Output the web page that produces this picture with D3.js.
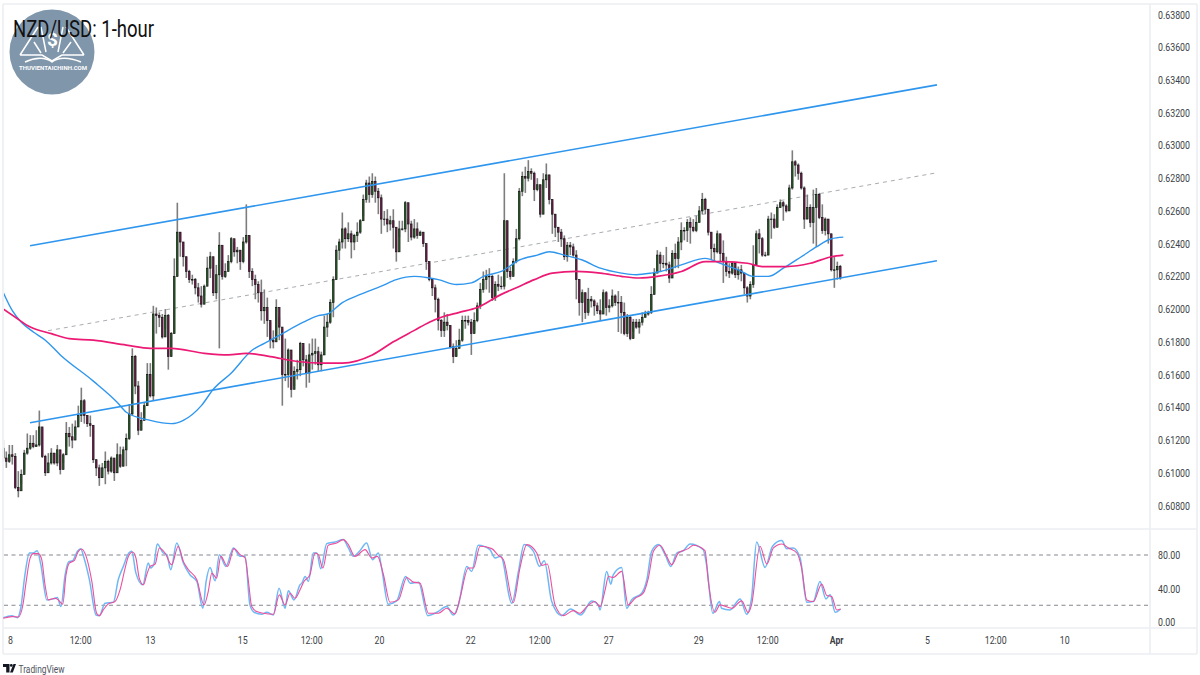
<!DOCTYPE html>
<html><head><meta charset="utf-8">
<script src="https://cdn.jsdelivr.net/npm/d3@7/dist/d3.min.js"></script>
<style>html,body{margin:0;background:#fff}svg{display:block}text{font-family:Roboto,sans-serif}</style>
</head><body><svg id="c" width="1200" height="675"></svg>
<script>
// NZD/USD candles, quoted in pips (6109 = 0.6109)
const firstOpen = 6115;
const closes = [6109,6107,6111,6110,6091,6089,6099,6112,6115,6118,6116,6117,6128,6110,6100,6106,6112,6106,6114,6102,6111,6124,6122,6120,6128,6135,6144,6135,6130,6129,6108,6103,6097,6103,6107,6101,6109,6100,6111,6104,6114,6121,6136,6171,6153,6126,6132,6141,6160,6147,
6197,6196,6195,6183,6196,6171,6185,6220,6247,6241,6232,6223,6218,6218,6213,6208,6203,6214,6225,6232,6210,6221,6239,6220,6223,6229,6243,6235,6236,6229,6241,6245,6223,6218,6215,6210,6199,6201,6193,6181,6180,6201,6189,6160,6160,6175,6151,6162,6163,6179,6169,6161,6172,6173,6174,6166,6172,6189,6192,6204,6218,6236,6241,6249,6243,6246,6241,6245,6247,6254,6267,6277,6270,6278,6272,6268,6255,6255,6252,6254,6250,6235,6249,6249,6265,6252,6244,6249,6245,6247,6240,6229,
6218,6213,6206,6193,6187,6192,6190,6177,6171,6176,6181,6193,6193,6192,6185,6193,6202,6212,6218,6220,6220,6207,6215,6214,6214,6254,6223,6220,6229,6243,6272,6281,6280,6284,6283,6273,6276,6258,6279,6282,6267,6258,6250,6247,6243,6232,6239,6238,6233,6218,6204,6210,6198,6206,6205,6202,6199,6197,6210,6201,6202,6208,6204,6204,6198,6185,6195,6182,6192,6189,6192,6195,6197,6198,6209,6222,6233,
6228,6228,6227,6219,6234,6231,6241,6248,6248,6253,6250,6248,6253,6260,6267,6261,6247,6237,6235,6246,6234,6229,6223,6222,6228,6221,6224,6222,6213,6208,6215,6227,6246,6243,6233,6233,6255,6255,6250,6262,6265,6263,6260,6274,6290,6288,6283,6274,6255,6262,6253,6262,6270,6256,6248,6255,6246,6224,6224,6226,6219];
const highs = [6120,6113,6117,6117,6112,6101,6102,6114,6124,6123,6123,6126,6138,6127,6111,6112,6115,6112,6117,6111,6112,6131,6128,6130,6132,6141,6152,6145,6135,6135,6129,6108,6105,6106,6113,6108,6110,6108,6118,6116,6116,6124,6142,6176,6172,6156,6137,6143,6167,6167,
6202,6201,6198,6197,6200,6197,6186,6231,6265,6247,6241,6232,6224,6221,6219,6216,6214,6215,6232,6235,6224,6227,6247,6230,6228,6233,6244,6241,6238,6236,6244,6264,6245,6225,6221,6217,6218,6212,6207,6192,6187,6206,6195,6188,6182,6176,6165,6165,6169,6180,6177,6172,6179,6182,6182,6177,6174,6196,6197,6206,6220,6239,6243,6259,6250,6253,6248,6246,6253,6255,6270,6279,6281,6283,6281,6274,6270,6260,6261,6257,6261,6250,6254,6254,6266,6255,6254,6255,6253,6248,6247,6239,
6228,6219,6215,6207,6194,6198,6197,6190,6179,6181,6188,6196,6196,6196,6194,6198,6204,6216,6223,6224,6225,6221,6217,6221,6220,6283,6254,6226,6231,6249,6274,6284,6287,6291,6286,6284,6280,6276,6283,6289,6282,6265,6258,6250,6249,6245,6241,6241,6240,6236,6218,6212,6210,6213,6208,6206,6204,6206,6212,6211,6206,6212,6209,6211,6208,6204,6197,6196,6194,6194,6194,6198,6199,6199,6214,6225,6236,
6235,6233,6238,6229,6236,6240,6244,6253,6250,6255,6256,6255,6257,6263,6271,6268,6261,6247,6240,6248,6245,6242,6232,6228,6229,6226,6226,6227,6222,6214,6217,6239,6248,6249,6244,6235,6257,6259,6258,6264,6267,6266,6264,6276,6297,6291,6289,6284,6275,6270,6264,6273,6274,6271,6264,6256,6255,6246,6232,6229,6227];
const lows = [6107,6103,6106,6105,6090,6085,6093,6102,6111,6114,6115,6116,6116,6109,6098,6101,6105,6105,6104,6099,6106,6116,6116,6115,6123,6130,6131,6130,6128,6122,6106,6098,6092,6097,6093,6099,6100,6095,6102,6103,6104,6104,6120,6135,6148,6123,6130,6135,6141,6146,
6144,6185,6189,6182,6188,6163,6171,6185,6220,6232,6226,6219,6216,6215,6209,6204,6201,6208,6216,6219,6208,6206,6176,6218,6219,6224,6228,6232,6228,6224,6228,6240,6219,6214,6206,6204,6193,6191,6183,6176,6176,6183,6181,6141,6156,6152,6146,6153,6157,6159,6165,6152,6155,6163,6166,6162,6162,6172,6183,6191,6195,6218,6230,6237,6237,6241,6231,6236,6241,6246,6257,6265,6265,6268,6265,6258,6246,6251,6247,6248,6237,6229,6244,6248,6247,6241,6242,6243,6243,6245,6238,6224,
6217,6208,6198,6187,6183,6183,6187,6176,6167,6171,6177,6180,6188,6190,6172,6187,6192,6200,6210,6212,6210,6205,6205,6211,6212,6212,6219,6218,6221,6228,6242,6269,6271,6278,6279,6266,6272,6256,6273,6274,6264,6246,6244,6241,6238,6230,6229,6233,6232,6206,6196,6192,6194,6196,6201,6196,6197,6193,6200,6196,6198,6201,6202,6186,6185,6184,6183,6181,6186,6188,6185,6190,6195,6196,6197,6209,6222,
6223,6225,6223,6216,6223,6225,6225,6236,6242,6241,6240,6247,6247,6253,6258,6258,6245,6230,6229,6234,6229,6216,6220,6219,6221,6219,6218,6217,6209,6204,6206,6213,6227,6234,6232,6232,6233,6243,6249,6250,6262,6254,6259,6260,6273,6281,6279,6273,6249,6255,6250,6240,6238,6255,6246,6245,6240,6223,6213,6218,6218];

// moving averages: bar position and level in pips
const blueBars = [0,3,6,10,14,19,30,38,41,49,56,60,66,70,76,83,87,92,100,105,108,113,119,126,131,137,142,145,151,156,160,166,172,178,182,187,193,199,206,211,216,219,226,234,239,245,250,255,260,266,271,276,280];
const blueLevels = [6210,6199,6192,6186,6181,6172,6156,6143,6137,6132,6130,6132,6141,6151,6161,6175,6179,6184,6192,6196,6197,6204,6209,6214,6218,6220,6219,6218,6215,6216,6220,6223,6230,6233,6235,6233,6230,6225,6222,6221,6222,6223,6227,6231,6228,6224,6220,6220,6225,6232,6238,6243,6244];
const pinkBars = [0,4,9,16,22,30,41,49,56,67,75,81,89,98,107,113,123,130,137,142,146,152,158,166,171,177,183,191,199,206,212,218,226,234,240,248,253,261,269,276,280];
const pinkLevels = [6200,6195,6189,6185,6182,6181,6178,6176,6176,6173,6172,6173,6171,6168,6167,6167,6172,6180,6187,6192,6195,6198,6201,6209,6213,6218,6222,6223,6222,6220,6219,6220,6223,6229,6229,6228,6226,6226,6228,6232,6233];

// channel drawn across the swings: [bar, pips] at each end
const channelUpper = [[8.9,6238.7],[311.2,6337]];
const channelMiddle = [[14.9,6186.8],[311.2,6283.3]];
const channelLower = [[8.9,6130.6],[311.2,6229.5]];

// stochastic oscillator
const dBars = [0,2.8,5,6.5,7.6,8.9,10,11.7,12.8,13.9,15,17.2,18.3,19.8,20.9,22,23.6,25,26.1,27.6,29.5,31.1,32,33.3,35,37.2,38.9,40.6,41.7,43.1,44.2,45.3,46.7,47.8,48.9,50.6,52,53.9,56.1,58.3,60,61.7,64.5,66.9,68.3,69.5,71.1,72.5,74.7,76.9,78.9,80.6,81.7,82.8,84.5,86.7,90,92,93.9,95.6,97.2,98.9,100.2,102.2,103.9,105,106.5,108.3,111.1,113.3,115,117.2,120.6,122.8,124.7,126.7,128.9,131.7,134.5,136.7,138.9,141.7,145,147.8,150.6,152.2,155,156.7,158.9,162.8,165,166.7,170,172.2,174.5,177.8,179.5,181.3,183.9,186.7,190,192.2,194.5,197.2,198.9,200.6,201.7,203.3,206.1,208.3,210.6,213.3,215,216.7,218.9,221.1,222.8,225,228.3,230,233.9,235,237.2,238.9,242.8,246.1,248.3,249.4,252.2,254.5,256.7,259.5,261.7,264.5,266.1,267.8,270,272.8,274.5,276.1,277.8,279.1];
const dValues = [4.4,6.4,6,20,48,76,81.6,81.6,74.4,44.4,26.4,28.4,26.4,21.2,56.4,70.4,73.2,84.4,87.2,78.4,48.4,10.4,7.6,14.4,21.6,24.4,38.4,64.4,78.4,83.6,76.4,52.4,44.4,56.4,66.4,69.2,88.4,82.4,68.4,90.4,72.4,62.4,50.4,20.4,36.4,58.4,52.4,78.4,66.4,87.6,80.4,76.4,48.4,18.4,12.4,10.4,9.2,32.4,20.4,34.4,28.4,38.4,48.4,56.4,82.4,80.4,64.4,91.6,94.4,98.4,92.4,78.4,86.4,76.4,78.4,56.4,23.6,26.4,53.2,47.6,46.4,10.4,10.4,16.4,9.6,28.4,64.4,64.4,90.4,87.6,79.6,74.4,23.2,64.4,92.4,82.4,67.6,69.2,20.4,7.6,13.6,10.4,18.4,24.4,18.4,38.4,54.4,53.2,60.4,20.4,28.4,34.4,52.4,84.4,91.6,78.4,68.4,82.4,87.6,91.6,85.2,48.4,11.6,20.4,16.4,25.2,11.2,20.4,90.4,69.2,88.4,93.2,88.4,82.4,64.4,26.4,24.4,45.2,31.6,30.4,14.4,15.6];
const kBars = [0,2.8,4.7,5.8,7.2,8.7,10,11.3,12.5,14.5,16.7,18,19.2,20.6,21.7,23.1,24.7,25.8,26.9,28.7,30.9,32,33.9,36.7,38.3,40,41.5,42.8,44.2,46.5,48.3,49.1,50.2,51.3,53.3,54.5,55.8,57.8,60,62.2,64.5,66.5,67.6,68.9,70.6,72,74.2,76.7,78.9,80.6,82.2,83.6,86.1,87.8,90,91.9,93.9,95,96.9,98.9,99.5,100.6,101.7,103.3,104.5,105.8,107.8,110.6,113.3,115,116.7,118.7,121.1,123.1,125,126.1,128.3,131.1,134.1,135.6,138.4,141.5,144.5,147.8,150,151.7,154.5,156.1,158.3,162.2,163.9,165.8,169.5,171.7,173.6,176.7,178.7,180.3,182.8,186.1,189.1,192.5,196.1,198.3,198.9,201.1,202.5,203.3,206.1,207.8,209.4,212.8,214.5,216.1,218.4,220.6,222.5,224.5,226.7,228.9,233.3,234.4,236.5,238.7,239.4,242.2,245.6,247.8,249.4,251.1,253.9,256.4,259.5,261.1,263.3,265.6,267.8,270,272.2,274.2,275.6,277.3,279.1];
const kValues = [5.2,7.6,5.2,16.4,56.4,82.4,82.4,85.2,68.4,26.4,27.6,29.2,18.4,56.4,71.6,73.2,84.4,87.6,76.4,50.4,8.4,7.6,22.4,23.6,50.4,66.4,80.4,84.4,58.4,44.4,70.4,64.4,69.2,93.2,82.4,80.4,62.4,94.4,70.4,56.4,48.4,16.4,48.4,65.2,49.2,80.4,66.4,88.4,78.4,78.4,20.4,11.6,9.2,11.6,8.4,40.4,16.4,37.2,26.4,44.4,46.4,54.4,48.4,82.4,82.4,63.6,93.6,95.6,98.4,88.4,78.4,84.4,94.4,74.4,82.4,64.4,21.2,25.2,54.4,46.4,47.6,7.6,11.6,18.4,8.4,20.4,66.4,60.4,91.6,86.4,76.4,78.4,22.4,60.4,92.4,84.4,66.4,73.2,24.4,7.6,15.6,8.4,25.2,20.4,14.4,60.4,45.2,56.4,65.2,16.4,26.4,34.4,50.4,84.4,92.4,80.4,66.4,82.4,85.2,93.2,86.4,68.4,10.4,24.4,16.4,14.4,27.6,9.2,28.4,95.6,65.2,90.4,97.2,87.6,88.4,76.4,23.6,24.4,48.4,27.6,32.4,11.6,15.6];
const stochGuides = [80,20];

// axis labels
const priceTicks = [0.608,0.61,0.612,0.614,0.616,0.618,0.62,0.622,0.624,0.626,0.628,0.63,0.632,0.634,0.636,0.638];
const stochTicks = [80,40,0];
const timeBars = [2.2,25.6,48.9,79.6,102.6,125.2,155.6,178.6,201.6,231.6,254.6,277.6,307.9,330.6,353.6];
const timeLabels = ["8","12:00","13","15","12:00","20","22","12:00","27","29","12:00","Apr","5","12:00","10"];

const svg = d3.select("#c");
const paneRight = 1150;
const x = d3.scaleLinear().domain([-1.11, 382.22]).range([0, paneRight]);
const y = d3.scaleLinear().domain([0.608, 0.638]).range([505.5, 14.5]);
const yPip = p => y(p / 1e4);
const yStoch = d3.scaleLinear().domain([0, 80]).range([622, 555]);

const frame = "#eceef3";
svg.append("defs").append("clipPath").attr("id","pane").append("rect")
  .attr("x",4).attr("y",5).attr("width",paneRight-4).attr("height",524);

// pane borders
const borders = svg.append("g").attr("stroke",frame).attr("stroke-width",1.6).attr("fill","none");
[[3,4,1197,4],[3,4,3,654],[3,654,1197,654],[3,529,1197,529],[3,628,1197,628],[1150,4,1150,654],[1197,4,1197,654]]
  .forEach(s => borders.append("line").attr("x1",s[0]).attr("y1",s[1]).attr("x2",s[2]).attr("y2",s[3]));

const main = svg.append("g").attr("clip-path","url(#pane)");

// dashed mid-channel line sits below the price
main.append("path").attr("d", d3.line().x(d=>x(d[0])).y(d=>yPip(d[1]))(channelMiddle))
  .attr("stroke","#a9acb0").attr("stroke-width",1).attr("stroke-dasharray","4 4").attr("fill","none");

// candles
const candles = closes.map((c,i)=>({i, o: i? closes[i-1] : firstOpen, c, h: highs[i], l: lows[i]}));
main.append("g").selectAll("line").data(candles).join("line")
  .attr("x1",d=>x(d.i)).attr("x2",d=>x(d.i)).attr("y1",d=>yPip(d.h)).attr("y2",d=>yPip(d.l))
  .attr("stroke","#7d7d7d").attr("stroke-width",1.6);
main.append("g").selectAll("rect").data(candles).join("rect")
  .attr("x",d=>x(d.i)-0.7).attr("width",1.4)
  .attr("y",d=>yPip(Math.max(d.o,d.c))).attr("height",d=>Math.max(0.5,Math.abs(yPip(d.o)-yPip(d.c))))
  .attr("fill",d=>d.c>=d.o?"#1f6e1f":"#8e1457").attr("stroke","#141414").attr("stroke-width",0.7);

// moving averages
const maLine = d3.line().x(d=>x(d[0])).y(d=>yPip(d[1])).curve(d3.curveMonotoneX);
main.append("path").attr("d",maLine(d3.zip(blueBars,blueLevels))).attr("stroke","#2f96ee").attr("stroke-width",1.4).attr("fill","none");
main.append("path").attr("d",maLine(d3.zip(pinkBars,pinkLevels))).attr("stroke","#ec1a74").attr("stroke-width",1.7).attr("fill","none");

// channel boundaries
[channelUpper,channelLower].forEach(seg=>
  main.append("path").attr("d",d3.line().x(d=>x(d[0])).y(d=>yPip(d[1]))(seg))
    .attr("stroke","#2f96ee").attr("stroke-width",1.6).attr("fill","none"));

// stochastic pane
const osc = svg.append("g");
stochGuides.forEach(v=>osc.append("line").attr("x1",4).attr("x2",paneRight)
  .attr("y1",yStoch(v)).attr("y2",yStoch(v)).attr("stroke","#85878e").attr("stroke-width",1).attr("stroke-dasharray","4 3.5"));
const oscLine = d3.line().x(d=>x(d[0])).y(d=>yStoch(d[1])).curve(d3.curveMonotoneX);
osc.append("path").attr("d",oscLine(d3.zip(kBars,kValues))).attr("stroke","#6fb8f5").attr("stroke-width",1.5).attr("fill","none");
osc.append("path").attr("d",oscLine(d3.zip(dBars,dValues))).attr("stroke","#ee4f9c").attr("stroke-width",1.1).attr("fill","none");

// axes: text is set narrow to suit the tight price scale
function squeeze(sel, ratio){
  sel.selectAll("text").each(function(){
    const len=this.getComputedTextLength();
    d3.select(this).attr("textLength",len*ratio).attr("lengthAdjust","spacingAndGlyphs");
  });
}
function tidy(g){ g.select(".domain").remove(); g.selectAll("line").remove();
  g.selectAll("text").attr("fill","#3c3f46").attr("font-size",11); }

const priceAxis = svg.append("g").attr("transform",`translate(${paneRight},0)`)
  .call(d3.axisRight(y).tickValues(priceTicks).tickFormat(d3.format(".5f")).tickPadding(8).tickSize(0)).call(tidy);
priceAxis.call(squeeze,0.8);
const stochAxis = svg.append("g").attr("transform",`translate(${paneRight},0)`)
  .call(d3.axisRight(yStoch).tickValues(stochTicks).tickFormat(d3.format(".2f")).tickPadding(8).tickSize(0)).call(tidy);
stochAxis.call(squeeze,0.8);
const timeAxis = svg.append("g").attr("transform","translate(0,628)")
  .call(d3.axisBottom(x).tickValues(timeBars).tickFormat((d,i)=>timeLabels[i]).tickPadding(8).tickSize(0)).call(tidy);
timeAxis.call(squeeze,0.8);
timeAxis.selectAll("text").filter((d,i)=>timeLabels[i]==="Apr").attr("font-weight",700);

// site badge
const badge = svg.append("g");
badge.append("circle").attr("cx",52).attr("cy",52).attr("r",42.5).attr("fill","#7f96ab");
const ink = badge.append("g").attr("fill","none").attr("stroke","#fff").attr("stroke-width",1.5);
ink.append("path").attr("d","M20 55 L38 27 M84 55 L66 27 M20 55 L42 55 L52 61 L62 55 L84 55");
ink.append("path").attr("d","M25 62 C35 57 46 57 52 62 C58 57 69 57 81 62");
ink.append("path").attr("d","M41 27 L46 52 M63 27 L58 52 M34 42 L41 53 M71 42 L63 53");
badge.append("text").attr("x",52.5).attr("y",46).attr("text-anchor","middle").attr("fill","#fff")
  .attr("font-size",19).attr("font-weight",700).text("$");
badge.append("text").attr("x",53).attr("y",70).attr("text-anchor","middle").attr("fill","#fff")
  .attr("font-size",5.6).attr("font-weight",700).attr("font-family","Liberation Sans")
  .attr("textLength",68).attr("lengthAdjust","spacingAndGlyphs").text("THUVIENTAICHINH.COM");

// title
svg.append("text").attr("x",13).attr("y",36.5).attr("fill","#111").attr("font-size",23)
  .attr("font-family","Open Sans").attr("textLength",141).attr("lengthAdjust","spacingAndGlyphs").text("NZD/USD: 1-hour");

// footer mark
const mark = svg.append("g").attr("fill","#131722");
mark.append("path").attr("d","M3 664 H9.5 V672.5 H6.2 V667 H3 Z");
mark.append("path").attr("d","M13.5 664 H16 L12.8 672.5 H10 Z");
mark.append("circle").attr("cx",11.3).attr("cy",665.4).attr("r",1.4);
svg.append("text").attr("x",18.5).attr("y",673).attr("fill","#50535e").attr("font-size",11.5)
  .attr("textLength",46).attr("lengthAdjust","spacingAndGlyphs").text("TradingView");
</script></body></html>
